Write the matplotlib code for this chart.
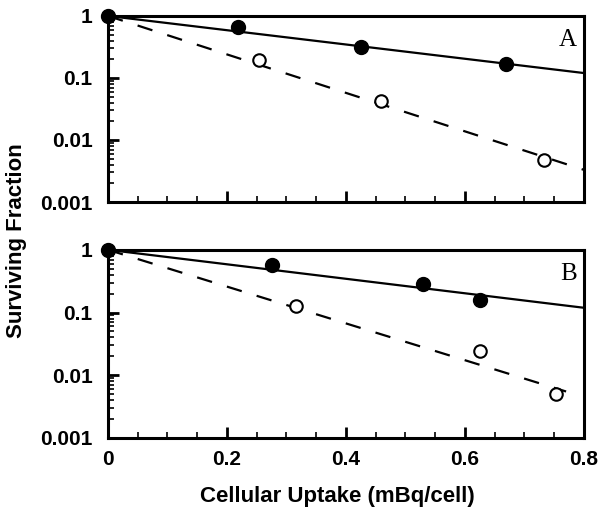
import matplotlib
matplotlib.use("Agg")
import matplotlib.pyplot as plt
from matplotlib.ticker import LogLocator, MultipleLocator, NullFormatter, FixedLocator

# Panel A data
a_filled_x = [0.0, 0.218, 0.425, 0.669]
a_filled_y = [1.0, 0.665, 0.32, 0.168]
a_open_x = [0.254, 0.459, 0.733]
a_open_y = [0.195, 0.0426, 0.0048]
a_solid_x = [0.0, 0.8]
a_solid_y = [1.0, 0.12]
a_dash_x = [0.0, 0.8]
a_dash_y = [1.0, 0.0033]

# Panel B data
b_filled_x = [0.0, 0.276, 0.53, 0.625]
b_filled_y = [1.0, 0.576, 0.287, 0.16]
b_open_x = [0.316, 0.625, 0.753]
b_open_y = [0.128, 0.0245, 0.005]
b_solid_x = [0.0, 0.8]
b_solid_y = [1.0, 0.119]
b_dash_x = [0.0, 0.77]
b_dash_y = [1.0, 0.0055]

xticks = [0, 0.2, 0.4, 0.6, 0.8]
xticklabels = ["0", "0.2", "0.4", "0.6", "0.8"]
yticks = [0.001, 0.01, 0.1, 1]
yticklabels = ["0.001", "0.01", "0.1", "1"]

plt.rcParams['font.family'] = ['Liberation Sans', 'DejaVu Sans']
plt.rcParams['font.weight'] = 'bold'

fig = plt.figure(figsize=(6.04, 5.14), dpi=100)
ax1 = fig.add_axes([0.1788, 0.607, 0.788, 0.362])
ax2 = fig.add_axes([0.1788, 0.148, 0.788, 0.366])

panels = [
    (ax1, a_filled_x, a_filled_y, a_open_x, a_open_y, a_solid_x, a_solid_y, a_dash_x, a_dash_y, "A"),
    (ax2, b_filled_x, b_filled_y, b_open_x, b_open_y, b_solid_x, b_solid_y, b_dash_x, b_dash_y, "B"),
]

for ax, fx, fy, ox, oy, sx, sy, dx, dy, lab in panels:
    ax.set_yscale('log')
    ax.plot(sx, sy, color='black', lw=1.6, zorder=2)
    ax.plot(dx, dy, color='black', lw=1.6, dashes=(7, 7), zorder=2)
    ax.plot(fx, fy, 'o', color='black', ms=10, zorder=3, clip_on=False)
    ax.plot(ox, oy, 'o', mfc='white', mec='black', mew=1.5, ms=9, zorder=3)
    ax.set_xlim(0, 0.8)
    ax.set_ylim(0.001, 1)
    ax.text(0.985, 0.87, lab, transform=ax.transAxes, ha='right', va='center',
            fontsize=18, family='Liberation Serif', fontweight='normal')
    for s in ax.spines.values():
        s.set_linewidth(2.2)
    ax.xaxis.set_major_locator(FixedLocator(xticks))
    ax.xaxis.set_minor_locator(MultipleLocator(0.05))
    ax.yaxis.set_major_locator(FixedLocator(yticks))
    ax.yaxis.set_minor_locator(LogLocator(base=10, subs=range(2, 10)))
    ax.yaxis.set_minor_formatter(NullFormatter())
    ax.set_yticklabels(yticklabels)
    ax.tick_params(which='major', direction='in', length=8, width=2, labelsize=15)
    ax.tick_params(axis='y', which='major', pad=11)
    ax.tick_params(axis='x', which='major', pad=9)
    ax.tick_params(which='minor', direction='in', length=4, width=1.2)
    ax.tick_params(axis='y', which='both', right=False)
    ax.tick_params(axis='x', which='both', top=False)

ax1.set_xticklabels([])
ax2.set_xticklabels(xticklabels)
fig.text(0.5788 - 0.02, 1 - 502 / 514, "Cellular Uptake (mBq/cell)", ha='center', va='baseline',
         fontsize=16, fontweight='bold')
fig.text(0.0265, 0.531, "Surviving Fraction", rotation=90, ha='center', va='center',
         fontsize=16, fontweight='bold')

fig.savefig("out.png", dpi=100)
